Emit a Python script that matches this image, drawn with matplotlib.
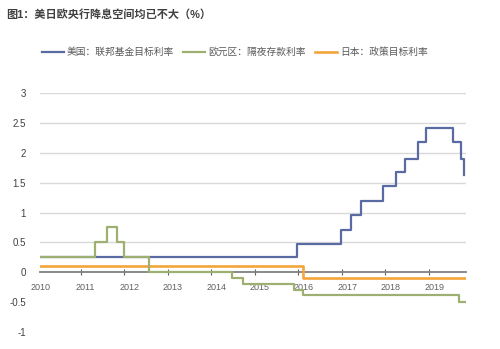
import matplotlib
matplotlib.use("Agg")
import matplotlib.pyplot as plt

plt.rcParams['font.family'] = ['Liberation Sans', 'Noto Sans CJK SC', 'DejaVu Sans']

# step series: change dates (fractional year) and levels
us_x = [2010.07, 2015.96, 2016.99, 2017.20, 2017.43, 2017.94, 2018.24, 2018.44,
        2018.75, 2018.94, 2019.55, 2019.74, 2019.80, 2019.81]
us_y = [0.25, 0.48, 0.70, 0.95, 1.20, 1.44, 1.67, 1.90,
        2.18, 2.41, 2.18, 1.90, 1.63, 1.63]

eu_x = [2010.07, 2011.33, 2011.61, 2011.84, 2012.00, 2012.57, 2014.47, 2014.72,
        2015.90, 2016.11, 2019.70, 2019.85]
eu_y = [0.25, 0.50, 0.75, 0.50, 0.25, 0.00, -0.10, -0.20,
        -0.30, -0.38, -0.50, -0.50]

jp_x = [2010.07, 2016.11, 2019.86]
jp_y = [0.10, -0.10, -0.10]

years = list(range(2011, 2020))
year_labels = [str(y) for y in range(2010, 2020)]
yticks = [-1, -0.5, 0, 0.5, 1, 1.5, 2, 2.5, 3]
ytick_labels = ['-1', '-0.5', '0', '0.5', '1', '1.5', '2', '2.5', '3']

labels = ['美国：联邦基金目标利率', '欧元区：隔夜存款利率', '日本：政策目标利率']
colors = ['#5a6aa3', '#9db071', '#f2a53a']

fig = plt.figure(figsize=(5.0, 3.49), dpi=100)
ax = fig.add_axes([0.08, 0.0487, 0.852, 0.6848])
ax.set_xlim(2010.07, 2019.85)
ax.set_ylim(-1, 3)

for yv in yticks:
    if yv > 0:
        ax.axhline(yv, color='#d9d9d9', lw=1.0, zorder=0)

l1, = ax.step(us_x, us_y, where='post', color=colors[0], lw=1.6, zorder=3)
l2, = ax.step(eu_x, eu_y, where='post', color=colors[1], lw=1.6, zorder=4)
l3, = ax.step(jp_x, jp_y, where='post', color=colors[2], lw=1.9, zorder=3)

for s in ['top', 'right', 'left']:
    ax.spines[s].set_visible(False)
ax.spines['bottom'].set_position(('data', 0))
ax.spines['bottom'].set_color('#808080')
ax.spines['bottom'].set_linewidth(1.3)
ax.spines['bottom'].set_zorder(2)

ax.set_xticks(years)
ax.set_xticklabels([])
ax.tick_params(axis='x', direction='inout', length=4, width=0.8, color='#606060')
for i, lab in enumerate(year_labels):
    xp = 2010.09 if i == 0 else 2010 + i + 0.12
    ax.text(xp, -0.26, lab, ha='center', va='center', fontsize=6.5, color='#606060')

ax.set_yticks(yticks)
ax.set_yticklabels(ytick_labels)
ax.tick_params(axis='y', length=0, pad=10, labelsize=7, labelcolor='#404040')

fig.text(0.012, 0.957, '图1：美日欧央行降息空间均已不大（%）', fontsize=8, fontweight='bold',
         color='#404040', ha='left', va='center')

fig.legend([l1, l2, l3], labels, loc='center left', bbox_to_anchor=(0.066, 0.851),
           ncol=3, frameon=False, fontsize=7, handlelength=2.3, handletextpad=0.3,
           columnspacing=0.9, labelcolor='#595959')

fig.savefig('out.png', dpi=100)
